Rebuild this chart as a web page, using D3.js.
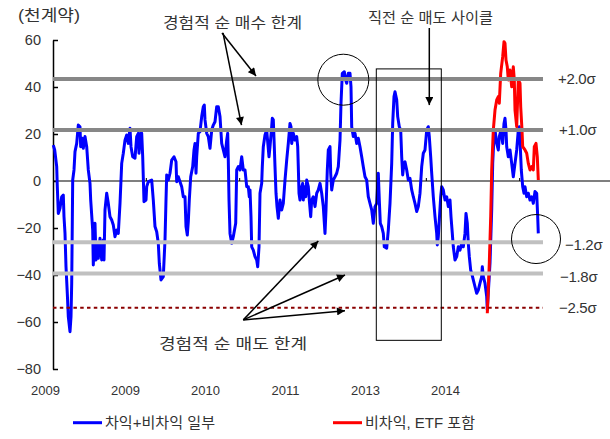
<!DOCTYPE html>
<html><head><meta charset="utf-8">
<script src="https://cdn.jsdelivr.net/npm/d3@7"></script>
<style>
html,body{margin:0;padding:0;background:#fff;}
svg{display:block;}
text{font-family:"Liberation Sans","Noto Sans CJK KR",Arial,sans-serif;fill:#333;}
</style></head>
<body><svg id="c" width="610" height="439"></svg>
<script>
// ---------- data ----------
const yTicks = [60, 40, 20, 0, -20, -40, -60, -80];
const xLabels = ["2009", "2009", "2010", "2011", "2013", "2014"];
const sigmaValues = [43.4, 21.7, -26.1, -39.4, -53.9];
const sigmaLabels = ["+2.0σ", "+1.0σ", "−1.2σ", "−1.8σ", "−2.5σ"];
const seriesNames = ["차익+비차익 일부", "비차익, ETF 포함"];

// observation index (time order) and values, 천계약
const blueT = [0.3,1.7,3.7,4.3,5.3,7,8.7,10.3,11,12,13,14.3,15.3,17,18,18.7,19.3,19.7,21,22,23.7,25.3,27,27.7,29.3,30.3,32,33.7,35.3,37,37.7,39.7,40.3,42,43,44.3,45.3,47,48.7,50.3,51,52,53.7,55.3,57,58.7,60.3,62,63.7,65.3,67,68,68.7,70.3,72,73.7,75.3,77,78,79.7,82,83.7,85.3,86,87.7,88.7,89.7,91,93,93.7,95.3,98.7,100.3,102,103.7,105.3,106.3,108,110.3,112,113,113.7,115.3,117,118.7,121,123,123.7,125.3,127,128.7,130.3,132,133,134.3,135.3,136.3,137.7,139.7,141,142,143,143.7,145.3,147,148.7,150.3,151.3,152,153.7,155.3,157,158.7,160.3,162,163.7,165.3,167,168.7,170.3,172,173.7,174.7,175.3,176,177,178.7,180.3,182.7,183.7,185.3,187,188.7,190.3,192,193.7,195.3,196.3,197,198,198.7,200.3,202,203.7,204.7,206,207,208.7,209.3,210.3,212,213.7,214.7,216,217,218.7,219.3,220.3,221.3,222,223,224,225.3,227,228.7,230.3,232,233.7,235.3,237,238,238.7,240.3,242,243.7,244.7,245.3,246,247,248.7,249.7,250.3,251.3,252.7,253.7,255.3,256.3,257.7,258.7,260.3,262,263.7,265.3,267,268.7,270.3,272,273,274.3,275.3,277,277.7,278.7,280.3,282,283.7,285.3,287,288,289.3,291.3,292.7,293.7,295.3,297,298,298.7,300.3,302,303.7,305.3,307,308.7,310.3,312,313.7,315.3,317,318.7,320.3,322,323.7,325.3,326.3,327.3,328.7,330.3,331.3,333.7,335.3,337,338.7,339.7,341,342,343.7,344.7,346.3,347.7,348.7,349.7,351,352,353.7,355.3,357,358.7,360.3,362,363.7,365.3,367,368.7,370.3,372,373.7,375.3,376.3,377.7,378.7,380.3,382,383.7,384.3,385.3,386.3,387.7,388.7,390.3,392,393.7,395.3,397,398,399.3,400.3,402,403.7,405.3,407,408.7,410.3,412,413,414.3,415.3,416.3,417.7,418.7,420.3,422,423.7,425.3,427,428.7,429.3,430.3,432,433.7,434.3,437,438.7,439.7,441,442,443.7,445.3,446.3,448,449.7,451,452,453,453.7,455.3,457,458.7,460.3,462,463.7,465.3,466.3,467,468.3,469.7,471,472,473.7,475.3,477,478.7,480.3,482,483.7,484.7,485.3];
const blueV = [15.3,13.2,6.1,-2.4,-13.8,-11.6,-6.7,-6.0,-15.2,-22.3,-36.5,-47.8,-57.7,-64.1,-57.7,-43.5,-18,0.4,4.7,12.5,16,23.8,23.1,14.6,18.2,13.9,18.9,14.6,4.7,-1,-8.1,-20.9,-35.7,-18,-33.6,-26.5,-32.9,-24.4,-33.6,-25.1,-33.6,-12.3,-5.2,-9.5,-15.2,-16.6,-18.7,-23.7,-20.9,-22.3,-9.5,0.4,7.5,11.8,17.4,19.6,16,22.4,14.6,10.3,9.7,18.9,20.3,11.8,20.3,20.3,10.3,-8.8,-8.1,-2.4,-0.3,0.4,-8.1,-19.4,-21.6,-26.5,-35,-42.1,-40.7,-25.1,-8.1,2.6,0.4,3.3,8.9,10.3,8.2,-0.3,1.8,-0.3,-2.4,-6.7,-6.7,-19.4,-23,-17.3,-8.1,1.8,6.1,13.2,16,3.3,10.3,20.3,21,27.4,31.6,32.3,26,20.3,18.9,13.9,21.7,23.8,25.2,31.6,31.6,27.4,16,13.2,10.3,17.4,20.3,8.9,-8.1,-22.3,-26.5,-23.7,-18,4.7,6.1,4.7,10.3,4.7,4.7,-2.4,-2.4,-6.7,-3.8,-15.2,-28,-29.4,-32.2,-33.6,-36.5,-28,-5.2,-1,6.1,14.6,19.6,21.7,16.7,10.3,14.6,23.1,26.7,26,14.6,6.1,-5.2,-10.9,-15.9,-8.1,-12.3,-9.5,0.4,8.9,16,24.5,23.1,16,20.3,17.4,18.9,14.6,6.1,-5.2,-8.1,-2.4,-1,-8.1,-2.4,-6.7,0.4,-2.4,-8.1,-15.2,-8.1,-6.7,-10.9,-5.2,-3.8,-1,-5.2,-10.9,-22.3,-12.3,4.7,13.2,14.6,3.3,-3.8,0.4,1.8,3.3,6.1,17.4,33.1,45.8,46.5,43,41.6,45.8,45.8,40.1,23.1,18.9,20.3,16,18.2,14.6,10.3,6.1,1.8,0.4,-6.7,-9.5,-12.3,-18,-10.9,-9.5,3.3,-8.1,-18,-19.4,-22.3,-28,-28.6,-20.9,-9.5,7.5,24.5,35.9,38,34.5,27.4,23.1,21.7,10.3,2.6,7.5,8.2,4.7,0.4,1.1,-3.8,-6.7,-9.5,-13,-10.9,-5.2,6.1,11.8,13.2,21.7,23.1,18.9,10.3,3.3,-6.7,-15.2,-22.3,-27.2,-23.7,-16.6,-6.7,-2.4,-3.8,-8.1,-6.7,-10.9,-8.1,-15.2,-22.3,-28,-33.6,-32.2,-28,-29.4,-26.5,-28,-22.3,-13.8,-18,-26.5,-32.2,-37.9,-39.3,-42.1,-45,-47.8,-46.4,-43.5,-40.7,-36.5,-40.7,-43.5,-49.2,-54.9,-35,-12.3,7.5,18.9,21.7,16,13.2,18.9,21.7,16,24.5,26.7,21.7,14.6,10.3,13.2,7.5,1.8,7.5,13.2,21.7,23.1,17.4,4.7,-2.4,-5.2,-2.4,-6.7,-5.2,-8.1,-6.7,-9.5,-4.5,-5.2,-15.2,-22.3];
const redT = [434.3,436.3,437.7,438.7,440.3,442,443.7,445.3,446.3,447.7,449.7,451,452,453,454.3,455.3,457,458.7,460.3,461.3,462,463.7,465.3,467,467.7,469,469.7,472,473.7,475.3,477,478.7,480.3,481.3,483,484.3,485.3];
const redV = [-56.3,-35,-15.2,4.7,21.7,30.2,34.5,35.9,33.1,45.8,52.9,59.3,58.6,51.5,48.6,43,47.2,40.1,48.6,43,30.2,23.1,43,41.6,31.6,21.7,14.6,13.2,11.8,7.5,4.7,6.1,4.7,14.6,16,10.3,0.4];

// ---------- layout ----------
const svg = d3.select("#c");
const x = d3.scaleLinear().domain([0, 485.3]).range([53, 538.3]);
const y = d3.scaleLinear().domain([-80, 60]).range([369, 40]);
const xLab = d3.scalePoint().domain(d3.range(xLabels.length)).range([45.5, 445.5]);
const xCat = d3.scaleLinear().domain([0, 6]).range([53, 613]);

// defs arrow
svg.append("defs").append("marker").attr("id","ah").attr("viewBox","0 0 10 10")
  .attr("refX",10).attr("refY",5).attr("markerWidth",9).attr("markerHeight",8)
  .attr("markerUnits","userSpaceOnUse").attr("orient","auto")
  .append("path").attr("d","M0,0L10,5L0,10Z").attr("fill","#000");

// zero line (category axis)
svg.append("line").attr("x1",53).attr("x2",610).attr("y1",y(0)).attr("y2",y(0))
  .attr("stroke","#000").attr("stroke-width",1.2);
svg.selectAll(".xt").data(d3.range(1,6)).join("line")
  .attr("x1",d=>xCat(d)).attr("x2",d=>xCat(d)).attr("y1",y(0)).attr("y2",y(0)-3)
  .attr("stroke","#000").attr("stroke-width",1);

// y axis
const ya = svg.append("g").attr("transform","translate(53,0)")
  .call(d3.axisLeft(y).tickValues(yTicks).tickSizeInner(-5).tickSizeOuter(0).tickPadding(12).tickFormat(d3.format("d")));
ya.select(".domain").attr("stroke","#000").attr("stroke-width",1.5);
ya.selectAll(".tick line").attr("stroke","#000").attr("stroke-width",1.5);
ya.selectAll(".tick text").attr("font-size",14.5).attr("fill","#333")
  .attr("font-family","Liberation Sans, Arial, sans-serif");

// x labels
svg.selectAll(".xl").data(xLabels).join("text")
  .attr("x",(d,i)=>xLab(i)).attr("y",395).attr("text-anchor","middle")
  .attr("font-size",13).text(d=>d);

// series
const line = d3.line().x(d=>x(d[0])).y(d=>y(d[1])).curve(d3.curveLinear);
svg.append("path").datum(blueT.map((t,i)=>[t,blueV[i]]))
  .attr("d",line).attr("fill","none").attr("stroke","#0000ff").attr("stroke-width",3).attr("stroke-linejoin","round");
svg.append("path").datum(redT.map((t,i)=>[t,redV[i]]))
  .attr("d",line).attr("fill","none").attr("stroke","#ff0000").attr("stroke-width",3).attr("stroke-linejoin","round");

// sigma lines
const sigColors = ["#878787","#878787","#c0c0c0","#c0c0c0","#8b0000"];
svg.selectAll(".sg").data(sigmaValues).join("line")
  .attr("x1",53).attr("x2",543).attr("y1",d=>y(d)).attr("y2",d=>y(d))
  .attr("stroke",(d,i)=>sigColors[i])
  .attr("stroke-width",(d,i)=>i===4?2:4)
  .attr("stroke-dasharray",(d,i)=>i===4?"3.5,3.3":null);
const sigDx = [558,559,565,560,559];
const sigDy = [0,0,3,3,0];
svg.selectAll(".sl").data(sigmaLabels).join("text")
  .attr("x",(d,i)=>sigDx[i]).attr("y",(d,i)=>y(sigmaValues[i])+sigDy[i]+5)
  .attr("font-size",15).attr("letter-spacing",-0.3).text(d=>d);

// annotations
const ann = svg.append("g");
ann.append("circle").attr("cx",x(290.3)).attr("cy",y(43.1)).attr("r",25.5)
  .attr("fill","none").attr("stroke","#000").attr("stroke-width",1);
ann.append("circle").attr("cx",x(483)).attr("cy",y(-24.7)).attr("r",24.5)
  .attr("fill","none").attr("stroke","#000").attr("stroke-width",1);
ann.append("rect").attr("x",x(323.3)).attr("y",y(47.7))
  .attr("width",x(388.3)-x(323.3)).attr("height",y(-67.8)-y(47.7))
  .attr("fill","none").attr("stroke","#000").attr("stroke-width",1);

function arrow(t0,v0,t1,v1){
  ann.append("line").attr("x1",x(t0)).attr("y1",y(v0)).attr("x2",x(t1)).attr("y2",y(v1))
    .attr("stroke","#000").attr("stroke-width",1.5).attr("marker-end","url(#ah)");
}
arrow(170,63,188.5,23.8);
arrow(169,63,203,44.7);
arrow(376.3,65.1,376.3,32.3);
arrow(190.3,-59.1,265.3,-25.5);
arrow(190.3,-59.1,292,-40);
arrow(190.3,-59.1,292,-55.2);

function label(txt,xx,yy,len,size){
  svg.append("text").attr("x",xx).attr("y",yy).attr("font-size",size)
    .attr("textLength",len).attr("lengthAdjust","spacingAndGlyphs").text(txt);
}
label("(천계약)",18,21,62,16);
label("경험적 순 매수 한계",163,28,139,15);
label("직전 순 매도 사이클",368,23,125,15);
label("경험적 순 매도 한계",159,349,148,15);

// legend
const lg = [[73,102,105,110],[333,362,365,110]];
const lc = ["#0000ff","#ff0000"];
lg.forEach((p,i)=>{
  svg.append("line").attr("x1",p[0]).attr("x2",p[1]).attr("y1",422.7).attr("y2",422.7)
    .attr("stroke",lc[i]).attr("stroke-width",3);
  svg.append("text").attr("x",p[2]).attr("y",428).attr("font-size",15)
    .attr("textLength",p[3]).attr("lengthAdjust","spacingAndGlyphs").text(seriesNames[i]);
});
</script></body></html>
